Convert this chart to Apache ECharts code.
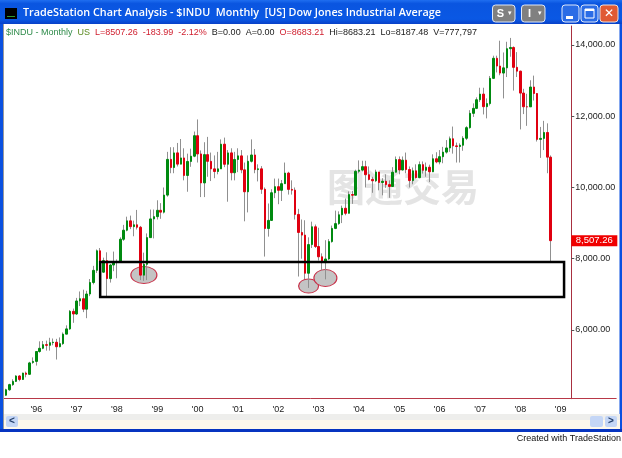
<!DOCTYPE html>
<html><head><meta charset="utf-8">
<style>html,body{margin:0;padding:0;background:#fff}#c{width:622px;height:458px}</style>
<script src="https://cdn.jsdelivr.net/npm/echarts@6/dist/echarts.min.js"></script>
</head><body><div id="c"></div>
<script>
const categories = [
"95-04","95-05","95-06","95-07","95-08","95-09","95-10","95-11","95-12",
"96-01","96-02","96-03","96-04","96-05","96-06","96-07","96-08","96-09","96-10","96-11","96-12",
"97-01","97-02","97-03","97-04","97-05","97-06","97-07","97-08","97-09","97-10","97-11","97-12",
"98-01","98-02","98-03","98-04","98-05","98-06","98-07","98-08","98-09","98-10","98-11","98-12",
"99-01","99-02","99-03","99-04","99-05","99-06","99-07","99-08","99-09","99-10","99-11","99-12",
"00-01","00-02","00-03","00-04","00-05","00-06","00-07","00-08","00-09","00-10","00-11","00-12",
"01-01","01-02","01-03","01-04","01-05","01-06","01-07","01-08","01-09","01-10","01-11","01-12",
"02-01","02-02","02-03","02-04","02-05","02-06","02-07","02-08","02-09","02-10","02-11","02-12",
"03-01","03-02","03-03","03-04","03-05","03-06","03-07","03-08","03-09","03-10","03-11","03-12",
"04-01","04-02","04-03","04-04","04-05","04-06","04-07","04-08","04-09","04-10","04-11","04-12",
"05-01","05-02","05-03","05-04","05-05","05-06","05-07","05-08","05-09","05-10","05-11","05-12",
"06-01","06-02","06-03","06-04","06-05","06-06","06-07","06-08","06-09","06-10","06-11","06-12",
"07-01","07-02","07-03","07-04","07-05","07-06","07-07","07-08","07-09","07-10","07-11","07-12",
"08-01","08-02","08-03","08-04","08-05","08-06","08-07","08-08","08-09","08-10","08-11","08-12",
"09-01","09-02","09-03","09-04","09-05","09-06","09-07","09-08","09-09","09-10","09-11","09-12",
"10-01","10-02","10-03","10-04","10-05"];
const opens = [
4168,4321,4465,4556,4708,4610,4789,4755,5087,
5117,5395,5485,5587,5569,5643,5655,5529,5616,5882,6029,6522,
6448,6813,6877,6583,7009,7331,7673,8222,7622,7945,7442,7823,
7908,7907,8546,8800,9063,8900,8952,8883,7539,7843,8592,9117,
9181,9359,9307,9786,10789,10560,10971,10655,10829,10337,10730,10878,
11453,10941,10128,10922,10734,10522,10448,10522,11215,10651,10971,10414,
10786,10887,10495,9879,10735,10912,10502,10523,9950,8848,9075,9852,
10022,9920,10106,10404,9946,9925,9243,8737,8663,7592,8397,8896,
8342,8054,7891,7992,8480,8850,8985,9233,9416,9275,9801,9782,
10454,10488,10584,10358,10226,10188,10435,10140,10174,10080,10027,10428,
10783,10490,10766,10504,10193,10467,10275,10641,10482,10569,10440,10806,
10717,10864,10993,11109,11367,11168,11150,11186,11381,11679,12081,12221,
12463,12621,12268,12354,13063,13627,13409,13212,13358,13896,13930,13372,
13265,12650,12266,12263,12820,12638,11350,11378,11544,10851];
const closes = [
4321,4465,4556,4708,4610,4789,4755,5074,5117,
5395,5485,5587,5569,5643,5655,5529,5616,5882,6029,6522,6448,
6813,6877,6583,7009,7331,7673,8222,7622,7945,7442,7823,7908,
7907,8546,8800,9063,8900,8952,8883,7539,7843,8592,9117,9181,
9359,9307,9786,10789,10560,10971,10655,10829,10337,10730,10878,11453,
10941,10128,10922,10734,10522,10448,10522,11215,10651,10971,10414,10786,
10887,10495,9879,10735,10912,10502,10523,9950,8848,9075,9852,10022,
9920,10106,10404,9946,9925,9243,8737,8663,7592,8397,8896,8342,
8054,7891,7992,8480,8850,8985,9233,9416,9275,9801,9782,10454,
10488,10584,10358,10226,10188,10435,10140,10174,10080,10027,10428,10783,
10490,10766,10504,10193,10467,10275,10641,10482,10569,10440,10806,10717,
10864,10993,11109,11367,11168,11150,11186,11381,11679,12081,12221,12463,
12621,12268,12354,13063,13627,13409,13212,13358,13896,13930,13372,13265,
12650,12266,12263,12820,12638,11350,11378,11544,10851,8507.26];
const highs = [
4350,4490,4615,4730,4730,4800,4830,5105,5230,
5400,5680,5690,5700,5780,5760,5750,5790,5930,6130,6560,6600,
6900,7080,7130,7100,7430,7800,8260,8300,8030,8180,7850,8200,
7980,8600,8950,9180,9210,9070,9370,8920,8170,8710,9380,9380,
9640,9560,10000,11000,11130,11130,11250,11360,11100,10950,11090,11570,
11910,11040,11270,11420,10980,10900,11000,11350,11400,11050,11100,11000,
11100,11050,10700,10900,11350,11080,10650,10600,10000,9550,9950,10250,
10250,10210,10700,10440,10200,10000,9400,9100,9080,8600,9040,8960,
8870,8150,8520,8550,8930,9350,9330,9490,9690,9890,9900,10500,
10760,10750,10750,10590,10300,10500,10400,10260,10370,10200,10570,10870,
10870,10870,10980,10590,10560,10650,10730,10730,10700,10640,10930,10990,
11050,11140,11330,11430,11710,11260,11240,11440,11720,12170,12360,12530,
12800,12800,12500,13130,13700,13700,14120,13790,14090,14198,13960,13800,
13280,12770,12630,13010,13140,12650,11700,11870,11800,10900];
const lows = [
4150,4290,4430,4540,4560,4600,4670,4740,5050,
5000,5360,5460,5420,5420,5570,5170,5510,5580,5880,6000,6200,
6420,6670,6500,6330,6950,7280,7600,7560,7600,6930,7330,7650,
7450,7900,8500,8770,8830,8630,8820,7400,7380,7400,8590,8570,
9100,9120,9270,9740,10400,10400,10590,10650,10200,9880,10580,10850,
10700,9730,9730,10300,10180,10260,10370,10520,10570,9600,10200,10200,
10430,10400,9050,9300,10700,10400,10170,9820,8060,8620,9060,9700,
9530,9620,10100,9800,9800,9100,7500,8000,7430,7180,8300,8300,
7950,7670,7420,7960,8450,8830,8950,9000,9220,9270,9540,9780,
10400,10450,10000,10200,9850,10150,9920,9780,9990,9710,10020,10420,
10370,10480,10400,10000,10090,10250,10260,10390,10300,10150,10430,10680,
10650,10680,10950,11000,10950,10700,10700,11030,11330,11650,11980,12200,
12400,12050,11940,12300,13050,13230,13150,12500,13100,13670,12720,13100,
11630,12060,11730,12260,12440,11290,10830,11050,10400,7882];
const yTickValues = [6000,8000,10000,12000,14000];
const xTickMonths = ["96-01","97-01","98-01","99-01","00-01","01-01","02-01","03-01","04-01","05-01","06-01","07-01","08-01","09-01"];
const xTickLabels = ["'96","'97","'98","'99","'00","'01","'02","'03","'04","'05","'06","'07","'08","'09"];
const ellipseMonths = ["98-09","02-10","03-03"];
const ellipseValues = [7543,7234,7459];
const zoneMonths = ["97-08","09-02"];
const zoneValues = [7908,6925];
const lastClose = 8507.26;
const tagMonth = "09-11";

const FONT = '"Liberation Sans", Arial, sans-serif';
const wickData = opens.map((o,i)=>[o,closes[i],lows[i],highs[i]]);
const bodyData = opens.map((o,i)=>[o,closes[i],Math.min(o,closes[i]),Math.max(o,closes[i])]);
const chart = echarts.init(document.getElementById('c'),null,{renderer:'canvas'});
const rect=(x,y,w,h,fill,extra)=>Object.assign({type:'rect',silent:true,z:0,shape:{x,y,width:w,height:h},style:{fill}},extra||{});
const btn=(x,w,fill,label,lf)=>[
 {type:'rect',silent:true,z:1,shape:{x:x,y:5,width:w,height:17,r:3},style:{fill:fill,stroke:'#dfe8f8',lineWidth:1}},
 {type:'text',silent:true,z:2,style:{x:x+(lf||w/2),y:13.5,text:label,fill:'#fff',font:'bold 11px '+FONT,align:'center',verticalAlign:'middle'}}
];
const chrome=[
 rect(0,0,622,24,new echarts.graphic.LinearGradient(0,0,0,1,[{offset:0,color:'#1f6ef0'},{offset:.15,color:'#0a55e0'},{offset:.8,color:'#0a58e4'},{offset:1,color:'#0840c8'}])),
 rect(0,24,3,406,'#0a50e0'),
 rect(3,24,1,406,'#9a9a9a'),
 rect(619.5,24,2.5,406,'#0a50e0'),
 rect(0,429,622,3,'#0634c0'),
 rect(4,414,616,6,'#eeeeec'),
 rect(4,420,616,9,'#fdf8ec'),
 {type:'rect',silent:true,z:1,shape:{x:6,y:416,width:12,height:11,r:2},style:{fill:'#c4d6f6'}},
 {type:'text',silent:true,z:2,style:{x:12,y:421.5,text:'<',fill:'#24406c',font:'bold 10px '+FONT,align:'center',verticalAlign:'middle'}},
 {type:'rect',silent:true,z:1,shape:{x:590,y:416,width:13,height:11,r:2},style:{fill:'#c4d6f6'}},
 {type:'rect',silent:true,z:1,shape:{x:605,y:416,width:12,height:11,r:2},style:{fill:'#c4d6f6'}},
 {type:'text',silent:true,z:2,style:{x:611,y:421.5,text:'>',fill:'#24406c',font:'bold 10px '+FONT,align:'center',verticalAlign:'middle'}},
 rect(5,8,12,11,'#000',{z:1}),
 rect(7,16,8,1,'#2e9a2e',{z:2}),
 ...btn(492.5,22.5,'#808080','S',8),
 {type:'text',silent:true,z:2,style:{x:510,y:13,text:'▾',fill:'#fff',font:'7px '+FONT,align:'center',verticalAlign:'middle'}},
 ...btn(521.5,23.5,'#808080','I',8),
 {type:'text',silent:true,z:2,style:{x:540,y:13,text:'▾',fill:'#fff',font:'7px '+FONT,align:'center',verticalAlign:'middle'}},
 {type:'rect',silent:true,z:1,shape:{x:562,y:5,width:17,height:17,r:3},style:{fill:'#2a6ce6',stroke:'#dfe8f8',lineWidth:1}},
 rect(566,16,7,3,'#fff',{z:2}),
 {type:'rect',silent:true,z:1,shape:{x:581,y:5,width:17,height:17,r:3},style:{fill:'#2a6ce6',stroke:'#dfe8f8',lineWidth:1}},
 {type:'rect',silent:true,z:2,shape:{x:585,y:9,width:9,height:9},style:{fill:'none',stroke:'#fff',lineWidth:1}},
 rect(585,9,9,2,'#fff',{z:2}),
 {type:'rect',silent:true,z:1,shape:{x:600,y:5,width:18,height:17,r:3},style:{fill:'#e05a34',stroke:'#f0e0d8',lineWidth:1}},
 {type:'text',silent:true,z:2,style:{x:609,y:13.5,text:'✕',fill:'#fff',font:'bold 12px "DejaVu Sans"',align:'center',verticalAlign:'middle'}},
 {type:'text',silent:true,z:0,style:{x:403,y:186.5,text:'图通交易',fill:'#e4e4e4',font:'bold 38px "Noto Sans CJK SC"',align:'center',verticalAlign:'middle'}}
];
chart.setOption({
 animation:false,
 backgroundColor:'#ffffff',
 textStyle:{fontFamily:FONT},
 title:[
  {text:'TradeStation Chart Analysis - $INDU  Monthly  [US] Dow Jones Industrial Average',left:23,top:7,padding:0,
   textStyle:{color:'#fff',fontSize:10.8,fontWeight:600,fontFamily:'"Open Sans"'}},
  {text:'{g|$INDU - Monthly}  {o|US}  {r|L=8507.26}  {r|-183.99}  {r|-2.12%}  {k|B=0.00}  {k|A=0.00}  {r|O=8683.21}  {k|Hi=8683.21}  {k|Lo=8187.48}  {k|V=777,797}',left:6,top:28,padding:0,
   textStyle:{fontSize:9,fontWeight:'normal',rich:{g:{color:'#2e8b4a',fontSize:9,fontWeight:'normal',fontFamily:FONT},o:{color:'#5a8a20',fontSize:9,fontWeight:'normal',fontFamily:FONT},r:{color:'#d02030',fontSize:9,fontWeight:'normal',fontFamily:FONT},k:{color:'#202020',fontSize:9,fontWeight:'normal',fontFamily:FONT}}}},
  {text:'Created with TradeStation',right:1,top:434,padding:0,textStyle:{color:'#111',fontSize:9,fontWeight:'normal',fontFamily:FONT}}
 ],
 graphic:{elements:chrome},
 grid:{left:4.37,top:26,width:611.8,height:372.7,containLabel:false},
 xAxis:{type:'category',data:categories,boundaryGap:true,
  axisLine:{onZero:false,lineStyle:{color:'#b83848',width:1}},
  axisTick:{alignWithLabel:true,length:5,lineStyle:{color:'#b83848'},interval:(i,v)=>xTickMonths.includes(v)},
  axisLabel:{interval:(i,v)=>xTickMonths.includes(v),formatter:v=>xTickLabels[xTickMonths.indexOf(v)]||'',color:'#222',fontSize:9,margin:6,fontFamily:FONT},
  splitLine:{show:false}},
 yAxis:{type:'value',position:'right',offset:-44.9,scale:true,min:4070,max:14533,
  axisLine:{show:true,onZero:false,lineStyle:{color:'#a83040',width:1}},
  axisTick:{show:true,length:3,lineStyle:{color:'#555'},customValues:yTickValues},
  axisLabel:{customValues:yTickValues,color:'#222',fontSize:9,margin:4,fontFamily:FONT,formatter:v=>v.toLocaleString('en-US',{minimumFractionDigits:2,maximumFractionDigits:2})},
  splitLine:{show:false}},
 series:[
  {name:'Marked lows',type:'scatter',z:1,symbol:'circle',
   symbolSize:(v,p)=>[[26,17],[20,14],[23,17]][p.dataIndex],
   itemStyle:{color:'#c4c4c4',borderColor:'#c83048',borderWidth:1,opacity:1},
   data:ellipseMonths.map((m,i)=>[m,ellipseValues[i]])},
  {name:'Range',type:'candlestick',z:2,barWidth:1,clip:true,
   itemStyle:{color:'#909090',color0:'#909090',borderColor:'#909090',borderColor0:'#909090',borderColorDoji:'#909090',borderWidth:1},
   data:wickData},
  {name:'$INDU',type:'candlestick',z:3,barWidth:2,clip:false,
   itemStyle:{color:'#008a10',color0:'#e00010',borderColor:'#008a10',borderColor0:'#e00010',borderColorDoji:'#008a10',borderWidth:1},
   data:bodyData,
   markArea:{silent:true,z:10,itemStyle:{color:'rgba(0,0,0,0)',borderColor:'#000',borderWidth:2.5},
     data:[[{xAxis:zoneMonths[0],yAxis:zoneValues[0]},{xAxis:zoneMonths[1],yAxis:zoneValues[1]}]]},
   markPoint:{silent:true,z:12,symbol:'rect',symbolSize:[46,11],itemStyle:{color:'#f00000'},
     label:{show:true,color:'#fff',fontSize:9.5,fontFamily:FONT,formatter:()=>lastClose.toLocaleString('en-US',{minimumFractionDigits:2})},
     data:[{coord:[tagMonth,lastClose]}]}}
 ]
});
</script></body></html>
